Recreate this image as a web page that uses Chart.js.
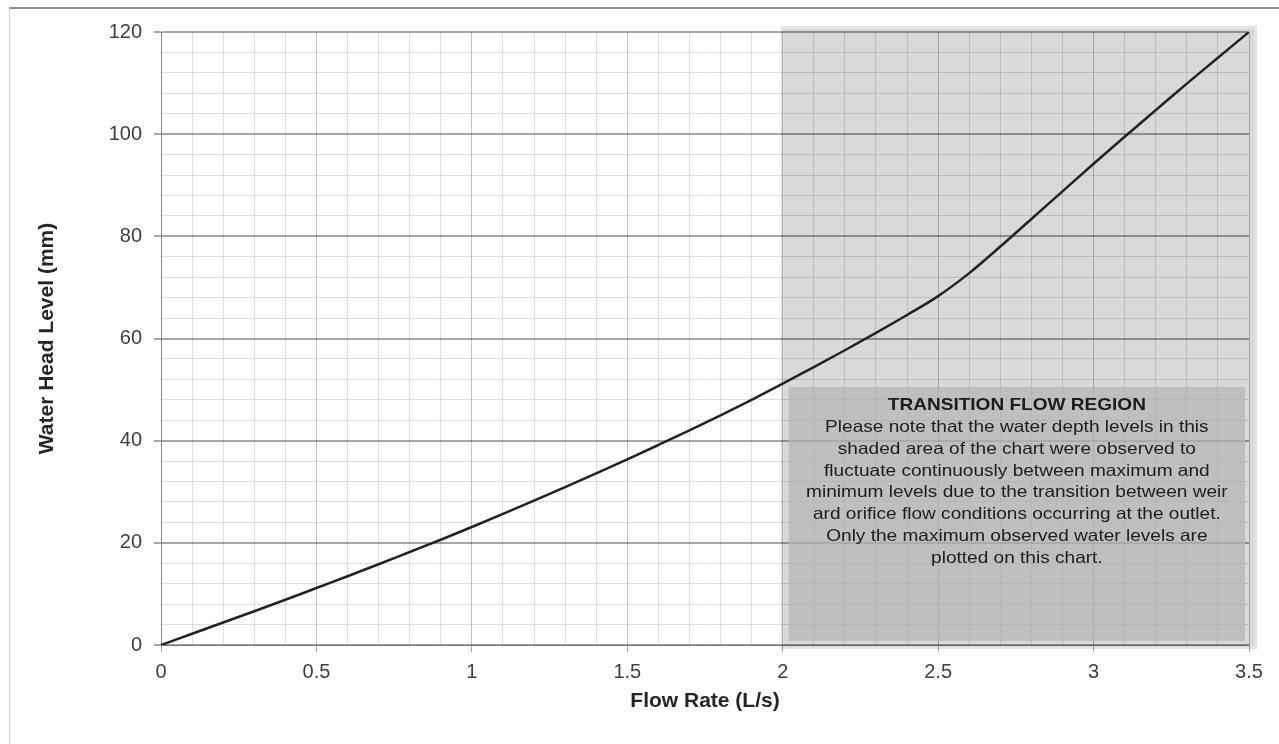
<!DOCTYPE html>
<html>
<head>
<meta charset="utf-8">
<script src="https://cdn.jsdelivr.net/npm/chart.js@4.4.1/dist/chart.umd.min.js"></script>
<style>
  html, body { margin: 0; padding: 0; background: #fff; }
  .frame { position: absolute; left: 9px; top: 7px; right: 0; bottom: 0; border-top: 2px solid #8c8c8c; border-left: 1px solid #d0d0d0; }
  .chart-wrapp { position: absolute; left: 0; top: 0; width: 1279px; height: 744px; }
</style>
</head>
<body>
<div class="frame"></div>
<div class="chart-wrapp"><canvas id="headChart"></canvas></div>
<script>
// values
const flowRate = [0, 0.1, 0.2, 0.3, 0.4, 0.5, 0.6, 0.7, 0.8, 0.9, 1.0, 1.1, 1.2, 1.3, 1.4, 1.5, 1.6, 1.7,
  1.8, 1.9, 2.0, 2.1, 2.2, 2.3, 2.4, 2.5, 2.6, 2.7, 2.8, 2.9, 3.0, 3.1, 3.2, 3.3, 3.4, 3.5]
const waterHead = [0, 2.2, 4.4, 6.6, 8.85, 11.15, 13.45, 15.8, 18.2, 20.6, 23.1, 25.65, 28.25, 30.9, 33.6, 36.35, 39.15, 42.0,
  44.95, 48.0, 51.15, 54.4, 57.7, 61.1, 64.6, 68.3, 72.8, 78.0, 83.4, 88.8, 94.2, 99.5, 104.7, 109.9, 114.95, 120]

const xMajorTicks = [0, 0.5, 1, 1.5, 2, 2.5, 3, 3.5]
const yMajorTicks = [0, 20, 40, 60, 80, 100, 120]

const transitionFrom = 2
const transitionTo = 3.5
const noteTitle = 'TRANSITION FLOW REGION'
const noteLines = [
  'Please note that the water depth levels in this',
  'shaded area of the chart were observed to',
  'fluctuate continuously between maximum and',
  'minimum levels due to the transition between weir',
  'ard orifice flow conditions occurring at the outlet.',
  'Only the maximum observed water levels are',
  'plotted on this chart.',
]

const isMajor = (list, v) => list.some(m => Math.abs(m - v) < 1e-6)

const transitionShade = {
  id: 'transitionShade',
  beforeDraw(chart) {
    const { ctx, scales: { x, y } } = chart
    const left = x.getPixelForValue(transitionFrom)
    const right = x.getPixelForValue(transitionTo)
    ctx.save()
    ctx.fillStyle = '#e3e3e3'
    ctx.fillRect(left - 2, y.top - 6, right - left + 10, y.bottom - y.top + 10)
    ctx.fillStyle = '#d9d9d9'
    ctx.fillRect(left + 1, y.top - 3, right - left + 4, y.bottom - y.top + 4)
    ctx.restore()
  },
  afterDatasetsDraw(chart) {
    const { ctx, scales: { x, y } } = chart
    const left = x.getPixelForValue(transitionFrom) + 6
    const right = x.getPixelForValue(transitionTo) - 4
    const top = y.getPixelForValue(50.5)
    const bottom = y.getPixelForValue(0.8)
    ctx.save()
    ctx.fillStyle = 'rgba(181, 181, 181, 0.75)'
    ctx.fillRect(left, top, right - left, bottom - top)

    // the note text is a bit wide in the original, stretch it horizontally
    ctx.translate((left + right) / 2, 0)
    ctx.textAlign = 'center'
    ctx.textBaseline = 'middle'
    ctx.fillStyle = '#1c1c1c'
    ctx.save()
    ctx.scale(1.12, 1)
    ctx.font = 'bold 17px "Liberation Sans", Arial, sans-serif'
    ctx.fillText(noteTitle, 0, top + 18)
    ctx.restore()
    ctx.scale(1.155, 1)
    ctx.font = '16.5px "Liberation Sans", Arial, sans-serif'
    noteLines.forEach((line, i) => ctx.fillText(line, 0, top + 40.5 + i * 21.8))
    ctx.restore()
  },
}

const tickFont = { family: '"Liberation Sans", Arial, sans-serif', size: 20 }
const titleFont = { family: '"Liberation Sans", Arial, sans-serif', size: 21, weight: 'bold' }

new Chart(document.getElementById('headChart'), {
  type: 'line',
  data: {
    datasets: [
      {
        label: 'Water Head Level',
        data: flowRate.map((q, i) => ({ x: q, y: waterHead[i] })),
        borderColor: '#222222',
        borderWidth: 2.5,
        pointRadius: 0,
        fill: false,
        cubicInterpolationMode: 'monotone',
      },
    ],
  },
  plugins: [transitionShade],
  options: {
    responsive: true,
    maintainAspectRatio: false,
    animation: false,
    layout: { padding: { top: 32, right: 30, bottom: 0, left: 0 } },
    plugins: {
      legend: { display: false },
      tooltip: { enabled: false },
    },
    scales: {
      x: {
        type: 'linear',
        min: 0,
        max: 3.5,
        afterFit: scale => { scale.height = 99 },
        ticks: {
          stepSize: 0.1,
          autoSkip: false,
          maxRotation: 0,
          padding: 8,
          color: '#404040',
          font: tickFont,
          callback: v => (isMajor(xMajorTicks, v) ? +v.toFixed(1) : ''),
        },
        grid: {
          tickLength: 7,
          color: ctx => (isMajor(xMajorTicks, ctx.tick.value) ? 'rgba(0,0,0,0.24)' : 'rgba(0,0,0,0.13)'),
          tickColor: ctx => (isMajor(xMajorTicks, ctx.tick.value) ? 'rgba(0,0,0,0.35)' : 'rgba(0,0,0,0)'),
          lineWidth: 1,
        },
        border: { color: 'rgba(0,0,0,0.3)' },
        title: {
          display: true,
          text: 'Flow Rate (L/s)',
          color: '#262626',
          font: titleFont,
          padding: { top: 0, bottom: 30 },
        },
      },
      y: {
        min: 0,
        max: 120,
        afterFit: scale => { scale.width = 161 },
        ticks: {
          stepSize: 4,
          autoSkip: false,
          padding: 12,
          color: '#404040',
          font: tickFont,
          callback: v => (isMajor(yMajorTicks, v) ? v : ''),
        },
        grid: {
          tickLength: 7,
          color: ctx => (isMajor(yMajorTicks, ctx.tick.value) ? 'rgba(0,0,0,0.35)' : 'rgba(0,0,0,0.13)'),
          tickColor: ctx => (isMajor(yMajorTicks, ctx.tick.value) ? 'rgba(0,0,0,0.35)' : 'rgba(0,0,0,0)'),
          lineWidth: ctx => (isMajor(yMajorTicks, ctx.tick.value) ? 2 : 1),
        },
        border: { color: 'rgba(0,0,0,0.3)' },
        title: {
          display: true,
          text: 'Water Head Level (mm)',
          color: '#262626',
          font: titleFont,
          padding: { top: 35, bottom: 0 },
        },
      },
    },
  },
})
</script>
</body>
</html>
